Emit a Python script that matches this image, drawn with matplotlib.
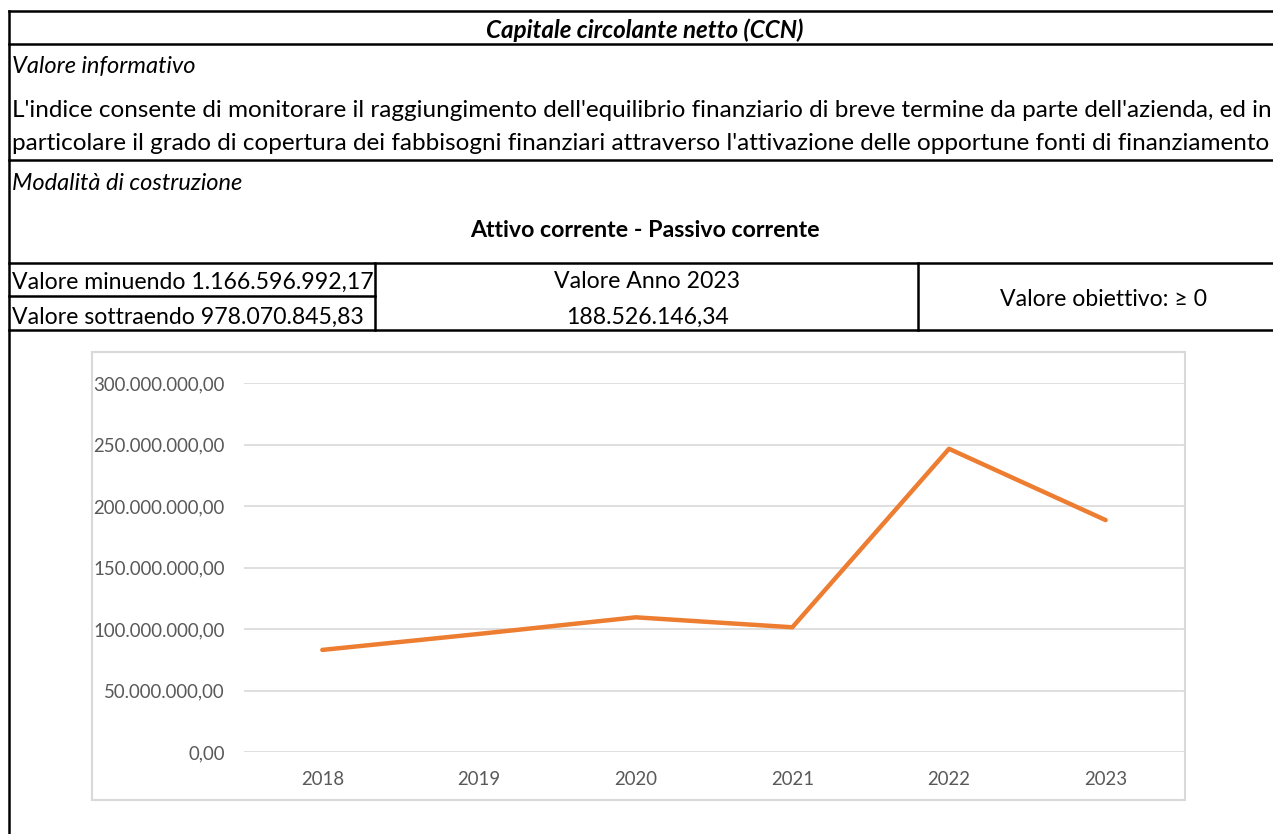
import matplotlib.pyplot as plt
from matplotlib.patches import Rectangle
from matplotlib.ticker import FuncFormatter

plt.rcParams['font.family'] = ['Lato', 'DejaVu Sans']

anni = ['2018', '2019', '2020', '2021', '2022', '2023']
ccn = [83.0e6, 96.0e6, 109.5e6, 101.4e6, 246.5e6, 188526146.34]
minuendo = 1166596992.17
sottraendo = 978070845.83
y_ticks = [0, 50e6, 100e6, 150e6, 200e6, 250e6, 300e6]

titolo = "Capitale circolante netto (CCN)"
riga1 = ("L'indice consente di monitorare il raggiungimento dell'equilibrio finanziario "
         "di breve termine da parte dell'azienda, ed in")
riga2 = ("particolare il grado di copertura dei fabbisogni finanziari attraverso "
         "l'attivazione delle opportune fonti di finanziamento")
formula = "Attivo corrente - Passivo corrente"


def it(v):
    # formato italiano 1.234.567,89
    return f"{v:,.2f}".replace(',', 'X').replace('.', ',').replace('X', '.')


W, H = 1273, 834
fig = plt.figure(figsize=(W / 100, H / 100), dpi=100)

# overlay in pixel per la tabella
tab = fig.add_axes([0, 0, 1, 1])
tab.set_xlim(0, W)
tab.set_ylim(H, 0)
tab.axis('off')

lw = 1.8
tab.plot([9, W], [11, 11], color='black', lw=lw)
tab.plot([9, 9], [11, H], color='black', lw=lw)
tab.plot([9, W], [44, 44], color='black', lw=lw)
tab.plot([9, W], [160, 160], color='black', lw=lw)
tab.plot([9, W], [263, 263], color='black', lw=lw)
tab.plot([9, 375], [296, 296], color='black', lw=lw)
tab.plot([9, W], [330, 330], color='black', lw=lw)
tab.plot([375, 375], [263, 330], color='black', lw=lw)
tab.plot([918, 918], [263, 330], color='black', lw=lw)

fs = 17
tab.text(645, 30, titolo, ha='center', va='center', fontsize=17.4,
         fontweight='bold', fontstyle='italic')
tab.text(12, 66, "Valore informativo", va='center', fontsize=fs, fontstyle='italic')
tab.text(12, 110, riga1, va='center', fontsize=17.5)
tab.text(12, 143, riga2, va='center', fontsize=17.5)
tab.text(12, 183, "Modalità di costruzione", va='center', fontsize=fs, fontstyle='italic')
tab.text(645, 230, formula, ha='center', va='center', fontsize=16.7, fontweight='bold')
tab.text(12, 282, "Valore minuendo " + it(minuendo), va='center', fontsize=16.6)
tab.text(12, 317, "Valore sottraendo " + it(sottraendo), va='center', fontsize=16.6)
tab.text(647, 282, "Valore Anno " + anni[-1], ha='center', va='center', fontsize=16.6)
tab.text(647, 317, it(minuendo - sottraendo), ha='center', va='center', fontsize=16.6)
tab.text(1103, 299, "Valore obiettivo: ≥ 0", ha='center', va='center', fontsize=16.6)

# cornice del grafico
fig.add_artist(Rectangle((92 / W, 1 - 800 / H), (1185 - 92) / W, (800 - 352) / H,
                         transform=fig.transFigure, fill=False,
                         edgecolor='#D9D9D9', lw=1.5))

# grafico
ax = fig.add_axes([244 / W, 1 - 752 / H, (1184 - 244) / W, (752 - 383) / H])
ax.patch.set_alpha(0)
x = range(len(anni))
ax.plot(x, ccn, color='#ED7D31', lw=3.2, solid_capstyle='round', solid_joinstyle='round')
ax.set_xlim(-0.5, len(anni) - 0.5)
ax.set_ylim(0, 300e6)
ax.set_yticks(y_ticks)
ax.yaxis.set_major_formatter(FuncFormatter(lambda v, p: it(v)))
ax.set_xticks(list(x))
ax.set_xticklabels(anni)
ax.grid(axis='y', color='#D9D9D9', lw=1.2)
ax.set_axisbelow(True)
for s in ax.spines.values():
    s.set_visible(False)
ax.tick_params(length=0, colors='#595959', labelsize=13.4)
ax.tick_params(axis='y', pad=14)
ax.tick_params(axis='x', pad=14)

fig.savefig('out.png', dpi=100)
